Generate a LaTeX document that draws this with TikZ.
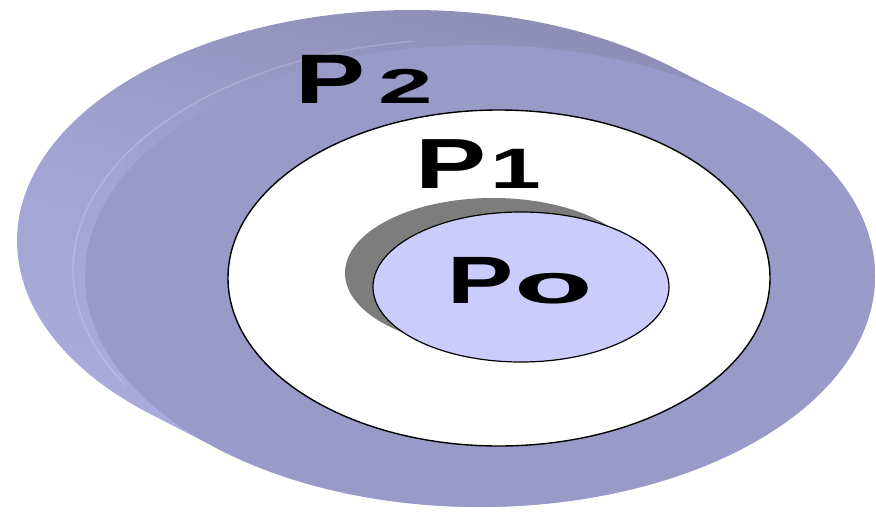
\documentclass[tikz,border=0pt]{standalone}
\usepackage{fontspec}
\setmainfont{Liberation Sans}
\usetikzlibrary{calc}
\definecolor{sidelight}{RGB}{172,172,222}
\definecolor{sidemid}{RGB}{164,164,212}
\definecolor{sidedark}{RGB}{136,136,174}
\definecolor{frontface}{RGB}{154,154,200}
\definecolor{innerfill}{RGB}{204,204,252}
\definecolor{shadowgray}{RGB}{125,125,125}
\tikzset{
  ring/.style={line width=1.4pt, draw=black},
  lbl/.style={inner sep=0pt, outer sep=0pt, anchor=base west, font=\bfseries, text=black}
}
\newcommand{\gly}[3]{\scalebox{#2}[1]{\fontsize{#1}{#1}\selectfont #3}}
\begin{document}
\begin{tikzpicture}[x=1pt,y=-1pt]
\useasboundingbox (0,0) rectangle (876,514);
% centres
\coordinate (fc) at (480,276);
\coordinate (bc) at (412,241);
\coordinate (b1) at ($(bc)+({395*cos(-48.6)},{231*sin(-48.6)})$);
\coordinate (f2) at ($(fc)+({395*cos(131.4)},{231*sin(131.4)})$);
% side of the disc
\shade[top color=sidedark, bottom color=sidelight, middle color=sidemid, shading angle=-15]
  (b1) arc[start angle=-48.6, end angle=-228.6, x radius=395, y radius=231]
  -- (f2) arc[start angle=131.4, end angle=-48.6, x radius=395, y radius=231]
  -- cycle;
% front face
\fill[frontface] (fc) ellipse[x radius=395, y radius=231];
\draw[white, opacity=0.18, line width=1.5pt]
  ($(fc)+(-12,-6)$) ++({395*cos(150)},{231*sin(150)})
  arc[start angle=150, end angle=262, x radius=395, y radius=231];
% P1 disc
\draw[ring, fill=white] (499,278) ellipse[x radius=271, y radius=168];
% shadow and P0 disc
\fill[shadowgray] (493,273) ellipse[x radius=148, y radius=75];
\draw[ring, line width=1.2pt, fill=innerfill] (521,287) ellipse[x radius=148, y radius=75];
% labels
\node[lbl] (p2) at (295,103) {\gly{70}{1.5}{P}\hspace{13pt}\gly{49}{2.0}{2}};
\node[lbl] (p1) at (415,188) {\gly{71}{1.5}{P}\hspace{4pt}\gly{57}{1.6}{1}};
\node[lbl] (p0) at (447,303) {\gly{67}{1.48}{P}\hspace{1pt}\gly{56}{2.3}{o}};
\end{tikzpicture}
\end{document}
